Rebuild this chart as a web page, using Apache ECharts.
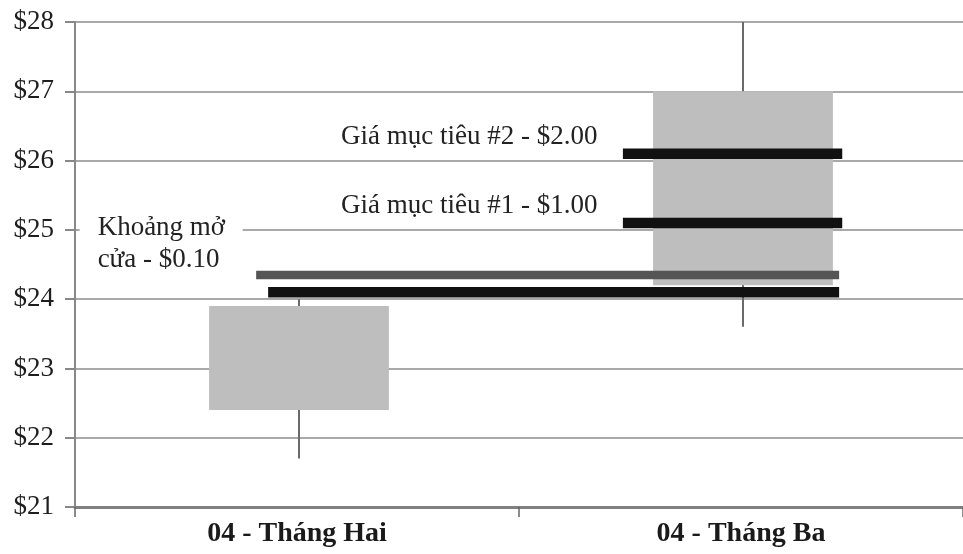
<!DOCTYPE html>
<html>
<head>
<meta charset="utf-8">
<script src="https://cdn.jsdelivr.net/npm/echarts@6/dist/echarts.min.js"></script>
<style>
  html, body { margin: 0; padding: 0; background: #fff; }
  #chart { width: 963px; height: 554px; }
</style>
</head>
<body>
<div id="chart"></div>
<script>
// Monthly price candles
const categories = ['04 - Tháng Hai', '04 - Tháng Ba'];
const openPrices  = [23.9, 24.2];
const closePrices = [22.4, 27.0];
const lowPrices   = [21.7, 23.6];
const highPrices  = [24.0, 28.0];

// Price axis
const priceMin = 21;
const priceMax = 28;
const priceStep = 1;

// Horizontal price levels: value, and span measured in category units
// (0 = centre of the first month, 1 = centre of the second)
const gapLevel     = 24.35;
const gapSpan      = [-0.092, 1.221];
const entryLevel   = 24.1;
const entrySpan    = [-0.065, 1.221];
const target1Level = 25.1;
const target2Level = 26.1;
const targetSpan   = [0.734, 1.228];

const gapText     = ['Khoảng mở', 'cửa - $0.10'];
const target1Text = 'Giá mục tiêu #1 - $1.00';
const target2Text = 'Giá mục tiêu #2 - $2.00';

const serif = '"Liberation Serif", "Times New Roman", serif';

const candleData = categories.map((c, i) => [i, openPrices[i], closePrices[i], lowPrices[i], highPrices[i]]);

function levelSeries(name, level, span, color, width, label) {
  const first = { value: [span[0], level] };
  if (label) first.label = label;
  return {
    name: name,
    type: 'line',
    xAxisIndex: 1,
    yAxisIndex: 0,
    symbol: 'circle',
    symbolSize: 1,
    showSymbol: true,
    itemStyle: { color: 'rgba(0,0,0,0)' },
    silent: true,
    z: 5,
    label: { show: false },
    lineStyle: { color: color, width: width, cap: 'butt' },
    data: [first, { value: [span[1], level] }]
  };
}

const targetLabel = (text) => ({
  show: true,
  position: 'left',
  distance: 25,
  offset: [0, -17],
  formatter: text,
  fontFamily: serif,
  fontSize: 27,
  color: '#222'
});

const chart = echarts.init(document.getElementById('chart'), null, { renderer: 'canvas' });

chart.setOption({
  animation: false,
  backgroundColor: '#fff',
  grid: { left: 75, right: 0, top: 22, bottom: 47, containLabel: false },
  xAxis: [
    {
      type: 'category',
      data: categories,
      boundaryGap: true,
      axisLine: { onZero: false, lineStyle: { color: '#808080', width: 3 } },
      axisTick: { show: true, length: 10, lineStyle: { color: '#666', width: 1.5 } },
      axisLabel: {
        margin: 13,
        fontFamily: serif,
        fontWeight: 'bold',
        fontSize: 28,
        color: '#1a1a1a'
      },
      splitLine: { show: false }
    },
    {
      type: 'value',
      min: -0.5,
      max: 1.5,
      show: false,
      axisLine: { show: false, onZero: false },
      axisTick: { show: false },
      axisLabel: { show: false },
      splitLine: { show: false }
    }
  ],
  yAxis: {
    type: 'value',
    min: priceMin,
    max: priceMax,
    interval: priceStep,
    axisLine: { show: true, onZero: false, lineStyle: { color: '#888', width: 2 } },
    axisTick: { show: true, length: 10, lineStyle: { color: '#888', width: 2 } },
    axisLabel: {
      margin: 21,
      fontFamily: serif,
      fontSize: 27,
      color: '#1e1e1e',
      formatter: (v) => '$' + v
    },
    splitLine: { show: true, lineStyle: { color: '#8c8c8c', width: 1.6 } }
  },
  series: [
    {
      name: 'Giá',
      type: 'custom',
      xAxisIndex: 0,
      yAxisIndex: 0,
      z: 3,
      silent: true,
      data: candleData,
      encode: { x: 0, y: [1, 2, 3, 4] },
      renderItem: function (params, api) {
        const x = api.value(0);
        const o = api.coord([x, api.value(1)]);
        const c = api.coord([x, api.value(2)]);
        const lo = api.coord([x, api.value(3)]);
        const hi = api.coord([x, api.value(4)]);
        const band = api.size([1, 0])[0];
        const w = band * 0.405;
        const top = Math.min(o[1], c[1]);
        const h = Math.abs(o[1] - c[1]);
        const cx = o[0] + 2;
        return {
          type: 'group',
          children: [
            {
              type: 'line',
              shape: { x1: cx, y1: hi[1], x2: cx, y2: lo[1] },
              style: { stroke: '#6a6a6a', lineWidth: 2 }
            },
            {
              type: 'rect',
              shape: { x: cx - w / 2, y: top, width: w, height: h },
              style: { fill: '#bebebe' }
            }
          ]
        };
      }
    },
    levelSeries('Khoảng mở cửa', gapLevel, gapSpan, '#555', 8.5, null),
    levelSeries('Giá vào lệnh', entryLevel, entrySpan, '#111', 10.5, {
      show: true,
      position: 'left',
      distance: 25,
      offset: [0, -48],
      formatter: '{a|' + gapText[0] + '}\n{a|' + gapText[1] + '}',
      backgroundColor: '#fff',
      padding: [0, 10, 0, 18],
      rich: {
        a: {
          width: 135,
          align: 'left',
          fontFamily: serif,
          fontSize: 27,
          lineHeight: 32,
          color: '#222'
        }
      }
    }),
    levelSeries('Giá mục tiêu #1', target1Level, targetSpan, '#111', 10.5, targetLabel(target1Text)),
    levelSeries('Giá mục tiêu #2', target2Level, targetSpan, '#111', 10.5, targetLabel(target2Text))
  ]
});
</script>
</body>
</html>
